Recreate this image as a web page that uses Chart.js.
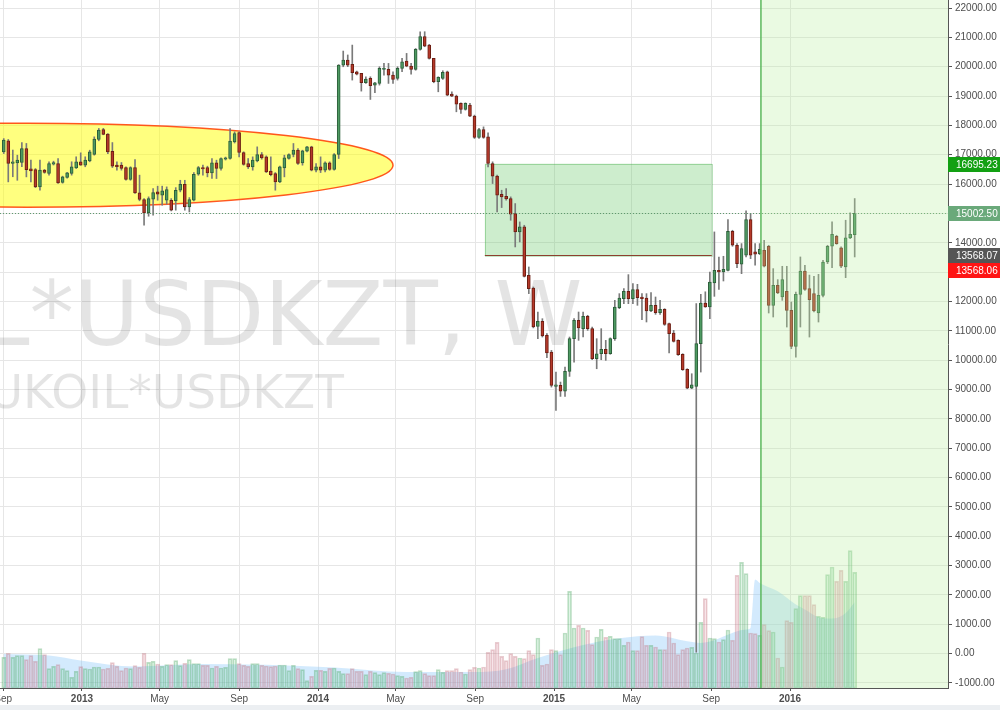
<!DOCTYPE html>
<html>
<head>
<meta charset="utf-8">
<script src="https://cdn.jsdelivr.net/npm/chart.js@4.4.1/dist/chart.umd.min.js"></script>
<style>
  html, body { margin: 0; padding: 0; background: #fff; overflow: hidden; }
  #wrap { width: 1000px; height: 710px; position: relative; }
</style>
</head>
<body>
<div id="wrap"><canvas id="chart" width="1000" height="710"></canvas></div>
<script>
// weekly candles UKOIL*USDKZT, x = days since 1 Jan 2013
const symbol = 'UKOIL*USDKZT';
const firstDay = -121; // week of 2 Sep 2012

const opens = [
  17100,17470,16700,16720,16735,17210,16520,16495,15905,16475,
  16360,16680,16700,16055,16225,16360,16555,16760,16645,16790,
  17010,17520,17860,17700,17120,16645,16645,16565,16155,16565,
  15700,15475,15020,15485,15735,15620,15450,15450,15425,15790,
  15995,15225,15450,16335,16564,16564,16382,16724,16530,16849,
  16871,17439,17758,17076,16700,16587,16791,17007,16928,16439,
  16359,16075,16553,16871,17007,17155,16723,17121,17269,16473,
  16587,16473,16723,16496,17008,20055,20226,20078,19828,19771,
  19452,19600,19373,19430,19907,19907,19714,19600,19941,20191,
  20021,19907,20590,21022,20737,20283,19487,19600,19828,19066,
  18998,18748,18543,18691,18315,17588,17861,17611,16701,16269,
  15655,15587,15507,14995,14370,14541,12892,12460,11152,11323,
  10845,10277,9106,9140,8946,9617,10732,11357,11073,11493,
  11073,10050,10220,10368,10220,10732,11790,12097,12347,12097,
  12403,12153,12119,11676,11869,11619,11733,11244,10925,10675,
  10198,9686,9049,9106,10561,11948,11812,12630,13062,13005,
  13062,14392,13915,13267,13574,14790,13688,13631,13745,13881,
  11868,12550,12153,12346,11698,10470,12244,13040,12437,12266,
  11607,12210,13346,13881,14222,13824,13176,14165,14279
];
const highs = [
  17550,17520,17160,16985,17415,17385,16815,16530,16815,16500,
  16760,16780,16870,16270,16400,16760,16930,17065,16930,17155,
  17610,17895,17900,17725,17415,16760,16735,16590,16590,16835,
  16305,15505,15565,15850,15930,15930,15905,15505,15880,16130,
  16130,15540,16395,16600,16644,16610,16871,16815,16894,16920,
  17894,17780,17780,17100,16871,16928,17269,17076,16962,16928,
  16393,16610,16985,17030,17383,17212,17155,17290,17290,16700,
  16928,16757,16758,17040,20070,20533,20400,20737,19850,19771,
  19657,19657,19470,19998,20112,20112,19828,19998,20283,20453,
  20112,20620,21192,21192,20760,20283,19657,19862,19850,19145,
  19032,18770,18770,18748,18350,17900,17950,17747,16758,16303,
  15791,15848,15564,15336,14711,14597,13176,12494,11641,11414,
  10902,10334,9595,9254,9765,10789,11414,11641,11641,11530,
  11130,10732,11073,10675,10760,12040,12267,12438,12915,12608,
  12585,12267,12267,12301,12153,12040,11755,11260,11016,10690,
  10220,9709,9538,11926,12244,12330,13005,14370,13517,13540,
  14790,14427,13972,13972,15086,14995,13972,13972,14086,13915,
  13119,12744,13199,13199,11982,12323,13517,13233,12900,12858,
  12926,13403,13915,14711,14256,13858,14768,15018,15507
];
const lows = [
  17040,16075,16250,16130,16590,16245,16075,15880,15790,16370,
  16305,16650,16020,16030,16200,16305,16530,16640,16590,16760,
  16985,17475,17680,17040,16565,16475,16475,16130,16130,15680,
  15430,14600,14905,14940,15450,15280,15315,15085,15110,15735,
  15110,15050,15425,16300,16303,16246,16189,16189,16473,16820,
  16850,17400,16928,16644,16530,16473,16757,16848,16393,16280,
  15791,16050,16246,16850,16928,16666,16644,17100,16450,16416,
  16393,16416,16470,16473,16870,19998,20000,19544,19720,19168,
  19430,18884,19111,19373,19714,19430,19430,19544,19828,19998,
  19748,19880,20567,20680,20260,19452,19145,19566,19010,18975,
  18463,18406,18520,18293,17554,17560,17560,16587,16019,15052,
  15200,15450,14768,13858,14029,12835,12267,11100,10732,10789,
  10084,9083,8287,8765,8765,9447,9936,10675,10789,11016,
  10016,9708,10016,9993,10200,10675,11755,11926,11926,11926,
  11869,11380,11301,11650,11562,11562,11187,10243,10618,10164,
  9652,9027,9027,50,9595,11800,11414,12175,12414,12698,
  13040,13881,13153,12948,13517,13460,13233,13597,13176,11607,
  11471,12266,12039,11129,10390,10106,11129,12380,10788,11641,
  11300,12153,13290,13153,13949,13153,12812,14142,13517
];
const closes = [
  17500,16700,16760,16815,17210,16495,16450,15905,16475,16395,
  16700,16735,16040,16245,16385,16590,16760,16645,16815,17100,
  17530,17840,17690,17100,16610,16590,16530,16155,16565,15700,
  15475,15020,15505,15710,15655,15770,15815,15110,15790,15995,
  15225,15475,16335,16565,16519,16382,16724,16530,16871,16894,
  17462,17724,17076,16666,16587,16814,17007,16894,16416,16325,
  16075,16587,16894,17007,17155,16700,17132,17269,16473,16587,
  16473,16723,16496,17007,20055,20226,20055,19794,19748,19452,
  19578,19350,19452,19941,19941,19714,19566,19941,20169,20021,
  19907,20590,21022,20703,20283,19487,19635,19805,19032,18998,
  18725,18543,18748,18315,17588,17861,17588,16701,16269,15621,
  15564,15496,14973,14370,14541,12858,12437,11130,11323,10823,
  10243,9140,9163,8946,9617,10732,11357,11096,11493,11073,
  10050,10220,10368,10220,10732,11811,12119,12347,12097,12403,
  12131,12097,11676,11869,11619,11733,11221,10903,10641,10186,
  9675,9049,9163,10562,11948,11812,12664,13062,13005,13096,
  14392,13915,13290,13801,14790,13574,13608,13779,13199,11868,
  12550,12289,12744,11698,10470,12244,13040,12414,12062,11675,
  12210,13346,13881,14290,13972,13199,14165,14290,15002.5
];
const volumes = [
  307,347,307,324,324,284,324,267,394,334,
  194,217,234,194,174,107,167,214,194,190,
  210,210,190,197,254,217,174,200,194,224,
  207,347,257,267,240,217,234,234,274,224,
  247,284,244,244,227,227,200,217,200,207,
  294,294,244,227,217,244,244,227,220,214,
  220,230,230,174,227,194,184,74,117,177,
  177,167,197,200,167,144,144,194,167,167,
  134,167,154,134,154,147,140,124,117,100,
  107,164,174,144,124,124,184,157,174,174,
  194,160,140,184,207,200,210,357,384,457,
  317,274,344,317,300,294,374,334,500,227,
  240,384,374,334,550,967,600,627,600,577,
  434,510,587,507,517,494,494,427,460,374,
  374,514,427,427,410,384,384,560,450,334,
  384,400,407,350,657,894,500,494,460,484,
  580,477,1127,1257,1144,550,544,527,634,574,
  560,300,210,674,657,794,924,924,924,834,
  717,707,1134,1210,1067,1177,1067,1374,1157
];
// volume moving average, read at a few weeks (week number, value)
const maWeeks   = [1, 11, 18, 30, 44, 59, 74, 90, 105, 112, 119, 127, 134, 141, 145, 152, 155, 165, 166, 167, 168, 172, 176, 178, 181, 184, 187, 189];
const maVolumes = [340, 325, 275, 215, 240, 232, 205, 160, 160, 188, 300, 407, 477, 517, 524, 467, 450, 584, 600, 1084, 1050, 967, 834, 784, 707, 694, 750, 857];

const tickDays  = [-122, 0, 120, 243, 365, 485, 608, 730, 850, 973, 1095];
const tickNames = ['Sep', '2013', 'May', 'Sep', '2014', 'May', 'Sep', '2015', 'May', 'Sep', '2016'];
const priceTicks = [];
for (let p = -1000; p <= 22000; p += 1000) priceTicks.push(p);

// drawings
const ellipseShape = { day: -85, price: 16644, halfDays: 566, halfPrice: 1431 };
const boxShape = { fromDay: 623, toDay: 974, top: 16695.23, bottom: 13568.07 };
const lineLevel = 13568.06;
const lastPrice = 15002.5;
const zoneStartDay = 1050;

const FONT = '"Liberation Sans", Arial, sans-serif';
const WM_FONT = '"DejaVu Sans", Verdana, sans-serif';
const dayOf = i => firstDay + 7 * i;
const isUp = i => closes[i] >= opens[i];

const wickData = lows.map((l, i) => ({ x: dayOf(i), y: [l, highs[i]] }));
const bodyData = opens.map((o, i) => ({ x: dayOf(i), y: [o, closes[i]] }));
const volData = volumes.map((v, i) => ({ x: dayOf(i), y: v }));
const maData = maWeeks.map((w, i) => ({ x: dayOf(w - 1), y: maVolumes[i] }));

const drawings = {
  id: 'drawings',
  beforeDatasetsDraw(chart) {
    const { ctx, chartArea: a, scales: { x, y } } = chart;
    ctx.save();
    ctx.beginPath();
    ctx.rect(a.left, a.top, a.right - a.left, a.bottom - a.top);
    ctx.clip();

    // watermark
    ctx.fillStyle = 'rgba(0,0,0,0.105)';
    ctx.textBaseline = 'alphabetic';
    ctx.textAlign = 'left';
    ctx.font = '89px ' + WM_FONT;
    const head = ctx.measureText('UKOIL*').width;
    ctx.fillText(symbol + ', W', 74 - head, 345);
    ctx.font = '47px ' + WM_FONT;
    ctx.textAlign = 'right';
    ctx.fillText(symbol, 344, 408);

    // yellow ellipse
    const cx = x.getPixelForValue(ellipseShape.day);
    const cy = y.getPixelForValue(ellipseShape.price);
    const rx = x.getPixelForValue(ellipseShape.day + ellipseShape.halfDays) - cx;
    const ry = y.getPixelForValue(ellipseShape.price - ellipseShape.halfPrice) - cy;
    ctx.beginPath();
    ctx.ellipse(cx, cy, rx, ry, 0, 0, Math.PI * 2);
    ctx.fillStyle = 'rgba(255,255,0,0.5)';
    ctx.fill();
    ctx.strokeStyle = 'rgba(255,70,10,0.9)';
    ctx.lineWidth = 1.5;
    ctx.stroke();

    // green box
    const bx1 = x.getPixelForValue(boxShape.fromDay), bx2 = x.getPixelForValue(boxShape.toDay);
    const by1 = y.getPixelForValue(boxShape.top), by2 = y.getPixelForValue(boxShape.bottom);
    ctx.fillStyle = 'rgba(100,200,100,0.32)';
    ctx.fillRect(bx1, by1, bx2 - bx1, by2 - by1);
    ctx.strokeStyle = 'rgba(76,175,80,0.4)';
    ctx.lineWidth = 1;
    ctx.strokeRect(Math.round(bx1) + 0.5, Math.round(by1) + 0.5, bx2 - bx1, by2 - by1);
    const ly = Math.round(y.getPixelForValue(lineLevel)) + 0.5;
    ctx.strokeStyle = '#8d3f2f';
    ctx.beginPath();
    ctx.moveTo(bx1, ly);
    ctx.lineTo(bx2, ly);
    ctx.stroke();
    ctx.restore();
  },
  afterDatasetsDraw(chart) {
    const { ctx, chartArea: a, scales: { x, y } } = chart;
    ctx.save();
    // last price dotted line
    const py = Math.round(y.getPixelForValue(lastPrice)) + 0.5;
    ctx.strokeStyle = '#5f9a6e';
    ctx.lineWidth = 1;
    ctx.setLineDash([1, 2]);
    ctx.beginPath();
    ctx.moveTo(a.left, py);
    ctx.lineTo(a.right, py);
    ctx.stroke();
    ctx.setLineDash([]);

    // shaded forecast zone
    const zx = x.getPixelForValue(zoneStartDay);
    ctx.fillStyle = 'rgba(185,240,160,0.3)';
    ctx.fillRect(zx, a.top, a.right - zx, a.bottom - a.top);
    ctx.strokeStyle = '#5cb85c';
    ctx.lineWidth = 1.5;
    ctx.beginPath();
    ctx.moveTo(zx, a.top);
    ctx.lineTo(zx, a.bottom);
    ctx.stroke();
    ctx.restore();
  },
  afterDraw(chart) {
    const { ctx, chartArea: a, scales: { y } } = chart;
    ctx.save();
    const labels = [
      { v: 16695.23, bg: '#12a012', shift: 0 },
      { v: 15002.50, bg: '#6aa97a', shift: 0 },
      { v: 13568.07, bg: '#555555', shift: 0 },
      { v: 13568.06, bg: '#ff1414', shift: 15 }
    ];
    ctx.font = '10px ' + FONT;
    ctx.textBaseline = 'middle';
    ctx.textAlign = 'left';
    labels.forEach(l => {
      const cy = Math.round(y.getPixelForValue(l.v)) + l.shift;
      ctx.fillStyle = l.bg;
      ctx.fillRect(a.right, cy - 7, chart.width - a.right, 15);
      ctx.fillStyle = '#ffffff';
      ctx.fillText(l.v.toFixed(2), a.right + 8, cy + 1);
    });
    ctx.fillStyle = '#eceff2';
    ctx.fillRect(0, 705, chart.width, 5);
    ctx.restore();
  }
};

new Chart(document.getElementById('chart'), {
  type: 'bar',
  data: {
    datasets: [
      {
        label: 'Bodies',
        data: bodyData,
        yAxisID: 'y',
        order: 1,
        grouped: false,
        barThickness: 3,
        borderWidth: 1,
        borderSkipped: false,
        backgroundColor: opens.map((o, i) => isUp(i) ? '#4e9a62' : '#b5392a'),
        borderColor: opens.map((o, i) => isUp(i) ? '#2b5d39' : '#6b1d12')
      },
      {
        label: 'Wicks',
        data: wickData,
        yAxisID: 'y',
        order: 2,
        grouped: false,
        barThickness: 1,
        borderWidth: 0,
        backgroundColor: '#7a7a7a'
      },
      {
        label: 'Volume',
        data: volData,
        yAxisID: 'yv',
        order: 3,
        grouped: false,
        barThickness: 4,
        borderWidth: 1,
        borderSkipped: false,
        backgroundColor: opens.map((o, i) => isUp(i) ? 'rgba(100,200,130,0.2)' : 'rgba(215,125,145,0.2)'),
        borderColor: opens.map((o, i) => isUp(i) ? 'rgba(70,160,90,0.35)' : 'rgba(190,110,120,0.35)')
      },
      {
        type: 'line',
        label: 'Volume MA',
        data: maData,
        yAxisID: 'yv',
        order: 4,
        fill: 'origin',
        backgroundColor: 'rgba(130,195,250,0.35)',
        borderWidth: 0,
        pointRadius: 0,
        cubicInterpolationMode: 'monotone'
      }
    ]
  },
  options: {
    responsive: false,
    animation: false,
    layout: { padding: 0 },
    plugins: { legend: { display: false }, tooltip: { enabled: false } },
    scales: {
      x: {
        type: 'linear',
        position: 'bottom',
        offset: false,
        min: -126.8,
        max: 1339.3,
        grid: { offset: false, color: '#e6e6e6', tickLength: 3, tickColor: '#555' },
        border: { color: '#555', width: 1 },
        afterBuildTicks: s => { s.ticks = tickDays.map(v => ({ value: v })); },
        afterFit: s => { s.height = 22; s.paddingLeft = 0; s.paddingRight = 0; },
        ticks: {
          autoSkip: false,
          maxRotation: 0,
          padding: 2,
          color: '#4d4d4d',
          font: c => ({ family: FONT, size: 10, weight: /^\d{4}$/.test(tickNames[c.index] || '') ? 'bold' : 'normal' }),
          callback: (v, i) => tickNames[i]
        }
      },
      y: {
        type: 'linear',
        position: 'right',
        min: -1170.4,
        max: 22272.6,
        grid: { color: '#e6e6e6', tickLength: 4, tickColor: '#555' },
        border: { color: '#555', width: 1 },
        afterBuildTicks: s => { s.ticks = priceTicks.map(v => ({ value: v })); },
        afterFit: s => { s.width = 52; s.paddingTop = 0; s.paddingBottom = 0; },
        ticks: {
          padding: 3,
          color: '#4d4d4d',
          font: { family: FONT, size: 10 },
          callback: v => Number(v).toFixed(2)
        }
      },
      yv: {
        type: 'linear',
        display: false,
        min: 0,
        max: 6880
      }
    }
  },
  plugins: [drawings]
});
</script>
</body>
</html>
